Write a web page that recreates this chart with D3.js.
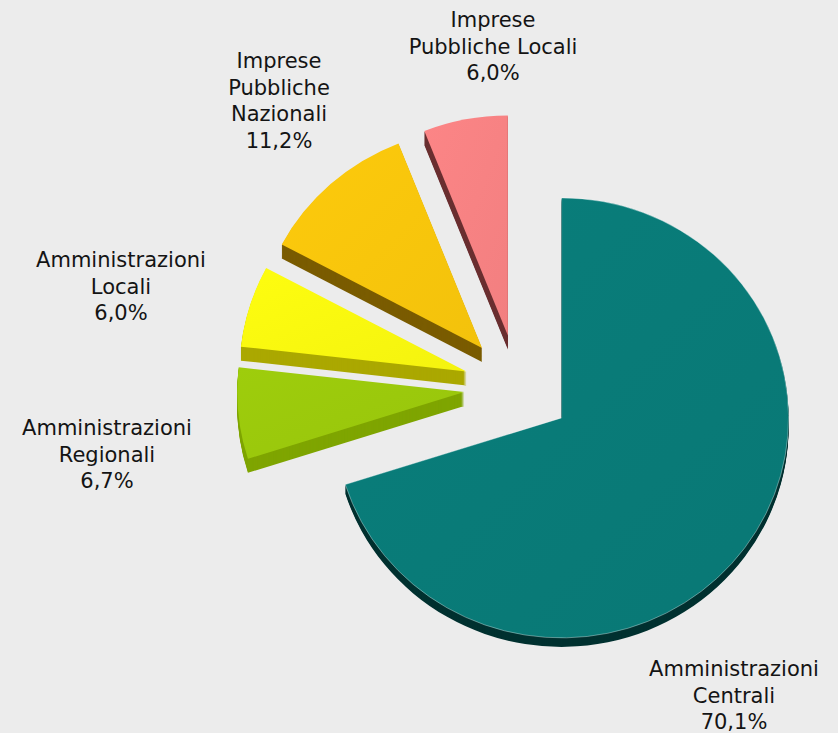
<!DOCTYPE html>
<html>
<head>
<meta charset="utf-8">
<script src="https://cdn.jsdelivr.net/npm/d3@7/dist/d3.min.js"></script>
<style>
    body { margin: 0; background: #ececec; }
    svg { display: block; }
    .label { font-family: "DejaVu Sans", Verdana, sans-serif; font-size: 21px; fill: #141414; }
</style>
</head>
<body>
<div id="chart"></div>
<script>
'use strict';

// data, clockwise from 12 o'clock
const categories = ["Amministrazioni Centrali", "Amministrazioni Regionali", "Amministrazioni Locali",
    "Imprese Pubbliche Nazionali", "Imprese Pubbliche Locali"];
const labelLines = [
    ["Amministrazioni", "Centrali"],
    ["Amministrazioni", "Regionali"],
    ["Amministrazioni", "Locali"],
    ["Imprese", "Pubbliche", "Nazionali"],
    ["Imprese", "Pubbliche Locali"]
];
const shares = [70.1, 6.7, 6.0, 11.2, 6.0];

// styles
const topColors = ["#097b78", "#9bc90c", "#f9f80f", "#f8c60c", "#f78283"];
const sideColors = ["#003130", "#7fa500", "#aba800", "#7a5c00", "#6a2f30"];
const labelAnchors = [[734, 676], [107, 435], [121, 267], [279, 68], [493, 27]];

const width = 838, height = 733;
const cx = 518, cy = 387;
const rx = 227, ry = 220;
const explode = 54;
const depths = [9, 14, 14, 14, 14];
const lineHeight = 26.5;

const it = d3.formatLocale({ decimal: ",", thousands: ".", grouping: [3], currency: ["€", ""] });
const fmt = v => it.format(".1f")(v) + "%";

const svg = d3.select("#chart").append("svg")
    .attr("width", width)
    .attr("height", height);

// soft light from the top-left on every face
const defs = svg.append("defs");
topColors.forEach((c, i) => {
    const g = defs.append("linearGradient")
        .attr("id", "face-" + i)
        .attr("x1", "0").attr("y1", "0").attr("x2", "1").attr("y2", "1");
    g.append("stop").attr("offset", "0").attr("stop-color", d3.color(c).brighter(0.06));
    g.append("stop").attr("offset", "1").attr("stop-color", d3.color(c).darker(0.06));
});

const pie = d3.pie().sort(null).value(d => d)(shares);
const arc = d3.arc().innerRadius(0).outerRadius(rx);
const yScale = ry / rx;

// each slice pushed out along its mid angle
function offset(d) {
    const mid = (d.startAngle + d.endAngle) / 2;
    return [Math.sin(mid) * explode, -Math.cos(mid) * explode * yScale];
}

const slices = svg.append("g").selectAll("g.slice")
    .data(pie)
    .join("g")
    .attr("class", "slice");

slices.each(function (d, i) {
    const [ox, oy] = offset(d);
    const g = d3.select(this);

    // extruded side: stack of shifted copies in the side colour
    const steps = d3.range(depths[i], 0, -1);
    g.selectAll("path.side")
        .data(steps)
        .join("path")
        .attr("class", "side")
        .attr("transform", s => `translate(${cx + ox},${cy + oy + s}) scale(1,${yScale})`)
        .attr("d", arc(d))
        .attr("fill", sideColors[i]);

    g.append("path")
        .attr("class", "face")
        .attr("transform", `translate(${cx + ox},${cy + oy}) scale(1,${yScale})`)
        .attr("d", arc(d))
        .attr("fill", `url(#face-${i})`)
        .attr("stroke", i === 0 ? "rgba(255,255,255,0.45)" : "none")
        .attr("stroke-width", 0.8);
});

// labels
const labels = svg.append("g").selectAll("text.label")
    .data(pie)
    .join("text")
    .attr("class", "label")
    .attr("text-anchor", "middle")
    .attr("x", (d, i) => labelAnchors[i][0])
    .attr("y", (d, i) => labelAnchors[i][1]);

labels.each(function (d, i) {
    const lines = labelLines[i].concat([fmt(shares[i])]);
    d3.select(this).selectAll("tspan")
        .data(lines)
        .join("tspan")
        .attr("x", labelAnchors[i][0])
        .attr("dy", (t, k) => k === 0 ? 0 : lineHeight)
        .text(t => t);
});
</script>
</body>
</html>
